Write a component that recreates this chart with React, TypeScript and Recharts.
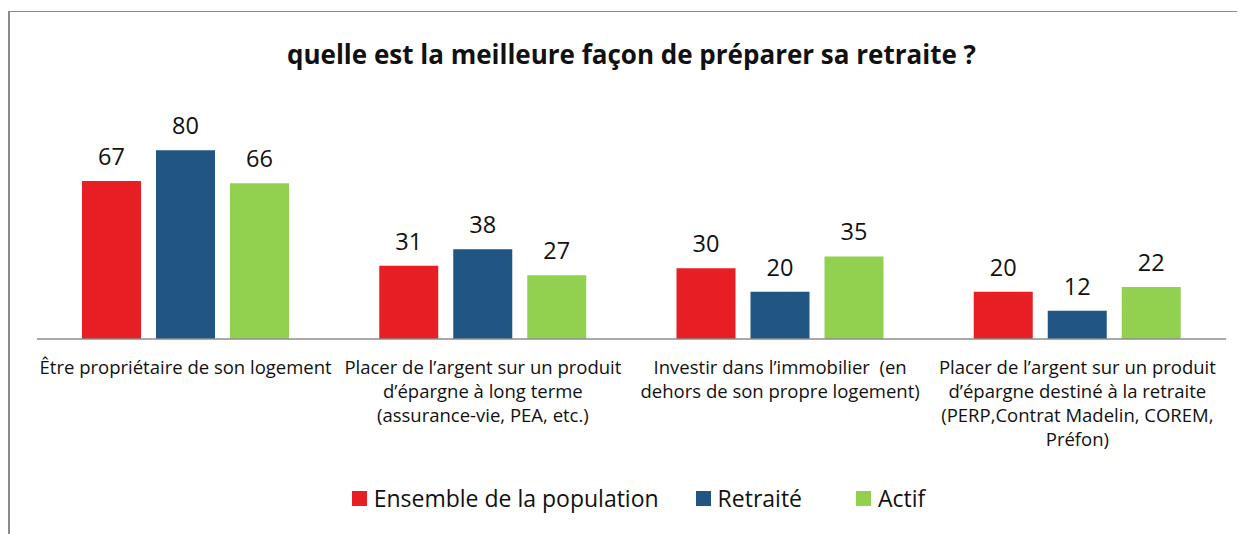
import React from "react";
import { BarChart, Bar, XAxis, YAxis, LabelList, Legend } from "recharts";

const categories = [
  "Être propriétaire de son logement",
  "Placer de l’argent sur un produit\nd’épargne à long terme\n(assurance-vie, PEA, etc.)",
  "Investir dans l’immobilier  (en\ndehors de son propre logement)",
  "Placer de l’argent sur un produit\nd’épargne destiné à la retraite\n(PERP,Contrat Madelin, COREM,\nPréfon)",
];
const ensemble = [67, 31, 30, 20];
const retraite = [80, 38, 20, 12];
const actif = [66, 27, 35, 22];

const series = [
  { key: "ensemble", name: "Ensemble de la population", color: "#E81E25" },
  { key: "retraite", name: "Retraité", color: "#215583" },
  { key: "actif", name: "Actif", color: "#92D050" },
];

const data = categories.map((c, i) => ({
  category: c,
  ensemble: ensemble[i],
  retraite: retraite[i],
  actif: actif[i],
}));

const FONT = "'Open Sans', 'Noto Sans', sans-serif";

const CategoryTick = ({ x, y, payload }: any) => {
  const lines = String(payload.value).split("\n");
  return (
    <text x={x} y={y} textAnchor="middle" fill="#111" fontSize={18.5} fontFamily={FONT}>
      {lines.map((l, i) => (
        <tspan key={i} x={x} y={y + 35 + i * 24} style={{ whiteSpace: "pre" }}>
          {l}
        </tspan>
      ))}
    </text>
  );
};

// Excel-style legend: slots are not evenly spaced
const LegendContent = () => (
  <div
    style={{
      height: 40,
      display: "flex",
      justifyContent: "center",
      alignItems: "flex-start",
      paddingLeft: 14,
      fontFamily: FONT,
      fontSize: 23,
      color: "#111",
    }}
  >
    {series.map((s, i) => (
      <div
        key={s.key}
        style={{ display: "flex", alignItems: "center", marginRight: i === 0 ? 37 : i === 1 ? 54 : 0 }}
      >
        <span style={{ width: 15, height: 15, background: s.color, marginRight: 7 }} />
        <span>{s.name}</span>
      </div>
    ))}
  </div>
);

export default function App() {
  return (
    <div
      style={{
        position: "relative",
        width: 1235,
        height: 523,
        marginTop: 3,
        borderTop: "1px solid #8a8a8a",
        borderLeft: "2px solid #8a8a8a",
        fontFamily: FONT,
      }}
    >
      <div
        style={{
          position: "absolute",
          top: 24,
          left: 0,
          width: 1243,
          textAlign: "center",
          fontWeight: 700,
          fontSize: 26,
          color: "#111",
        }}
      >
        quelle est la meilleure façon de préparer sa retraite ?
      </div>
      <BarChart
        width={1227}
        height={522}
        data={data}
        margin={{ top: 91, right: 11, left: 27, bottom: 12 }}
        barCategoryGap={45}
        barGap={15}
      >
        <XAxis
          dataKey="category"
          interval={0}
          tickLine={false}
          tickSize={0}
          tickMargin={0}
          height={143}
          axisLine={{ stroke: "#8c8c8c", strokeWidth: 1.5 }}
          tick={<CategoryTick />}
        />
        <YAxis hide domain={[0, 100]} />
        <Legend verticalAlign="bottom" content={<LegendContent />} />
        {series.map((s) => (
          <Bar key={s.key} dataKey={s.key} name={s.name} fill={s.color} isAnimationActive={false}>
            <LabelList
              dataKey={s.key}
              position="top"
              offset={16}
              fill="#111"
              fontSize={23.5}
              fontFamily={FONT}
            />
          </Bar>
        ))}
      </BarChart>
    </div>
  );
}
